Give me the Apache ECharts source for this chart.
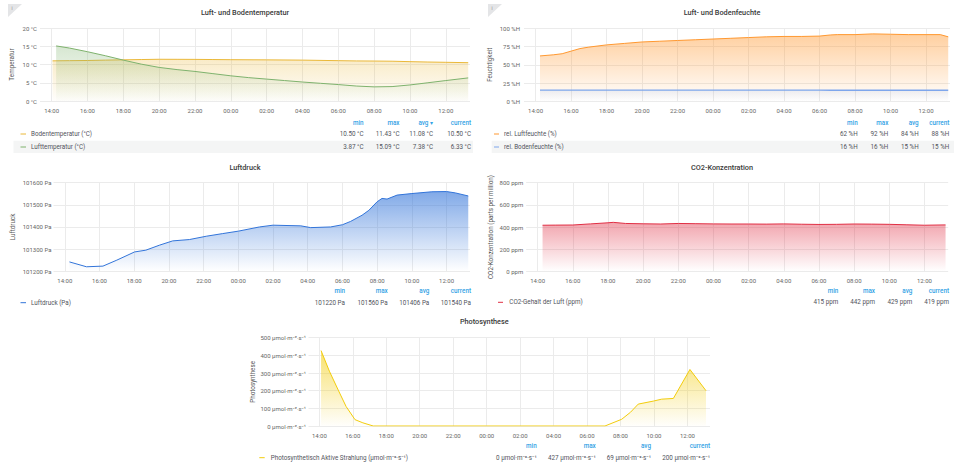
<!DOCTYPE html>
<html><head><meta charset="utf-8">
<script src="https://cdn.jsdelivr.net/npm/echarts@6/dist/echarts.min.js"></script>
<style>html,body{margin:0;padding:0;background:#fff}#c{width:959px;height:466px}</style>
</head><body><div id="c"></div>
<script>
// ---- time range (hours since day-1 midnight; 24 = 00:00 of day 2) ----
const rangeStartHour = 13.35;
const rangeEndHour = 37.35;
const tickHours = [14, 16, 18, 20, 22, 24, 26, 28, 30, 32, 34, 36];

// ---- Panel 1: Luft- und Bodentemperatur ----
const bodenTempHours  = [14.05, 15, 16, 17, 18, 19, 20, 21, 22, 23, 24, 26, 28, 30, 31, 32, 33, 34, 35, 36, 37.25];
const bodenTempValues = [11.0, 11.05, 11.1, 11.2, 11.28, 11.36, 11.43, 11.42, 11.4, 11.36, 11.32, 11.27, 11.2, 11.05, 10.98, 10.95, 10.9, 10.78, 10.68, 10.6, 10.5];
const luftTempHours   = [14.25, 15, 16, 17, 18, 19, 20, 21, 22, 23, 24, 25, 26, 27, 28, 29, 30, 31, 32, 33, 34, 35, 36, 37.25];
const luftTempValues  = [15.09, 14.5, 13.5, 12.4, 11.2, 10.1, 9.2, 8.6, 8.1, 7.5, 6.9, 6.4, 6.0, 5.6, 5.2, 4.85, 4.5, 4.1, 3.87, 3.95, 4.4, 5.0, 5.6, 6.33];

// ---- Panel 2: Luft- und Bodenfeuchte ----
const luftFeuchteHours  = [14.25, 15, 15.5, 16, 16.5, 17, 18, 19, 20, 21, 22, 23, 24, 25, 26, 27, 28, 29, 30, 30.6, 31, 32, 33, 34, 35, 36, 36.8, 37.25];
const luftFeuchteValues = [62, 63.5, 65, 68.5, 72, 74, 77, 79, 81, 82, 83, 84, 85, 86, 87, 88, 88.5, 88.5, 89, 90.5, 91, 91, 92, 91.5, 91, 91, 91, 88];
const bodenFeuchteHours  = [14.25, 18, 22, 26, 30, 30.6, 34, 37.25];
const bodenFeuchteValues = [15.6, 15.6, 15.6, 15.6, 15.5, 15.3, 15.3, 15.3];

// ---- Panel 3: Luftdruck ----
const luftdruckHours  = [14.27, 15.25, 16.2, 17, 18.02, 18.67, 19.47, 20.22, 21.18, 22.15, 23.1, 24, 25.22, 26, 27.6, 28.17, 29.32, 30, 30.47, 31.13, 31.52, 32, 32.28, 32.57, 33.15, 34, 35.15, 36, 36.5, 37.25];
const luftdruckValues = [101242, 101220, 101223, 101250, 101287, 101295, 101318, 101337, 101343, 101358, 101370, 101381, 101400, 101408, 101405, 101397, 101400, 101410, 101425, 101453, 101475, 101514, 101529, 101526, 101544, 101551, 101559, 101560, 101554, 101540];

// ---- Panel 4: CO2-Konzentration ----
const co2Hours  = [14.28, 15, 16, 17, 18, 18.3, 19, 20, 21, 22, 23, 24, 25, 26, 27, 28, 29, 30, 31, 32, 33, 34, 35, 36, 37.2];
const co2Values = [416, 417, 418, 428, 438, 442, 432, 429, 427, 432, 430, 428, 427, 427, 426, 428, 425, 423, 424, 427, 426, 424, 420, 416, 419];

// ---- Panel 5: Photosynthese ----
const parHours  = [14.1, 14.6, 15.13, 15.6, 16.13, 16.6, 17.22, 20, 24, 28, 31.07, 32.07, 32.6, 33.06, 33.96, 34.46, 35.16, 36.15, 37.11];
const parValues = [427, 310, 203, 110, 36, 18, 0, 0, 0, 0, 0, 38, 78, 124, 141, 152, 156, 320, 200];

// ---- legend tables (text) ----
const legendHeaders = ['min', 'max', 'avg', 'current'];
const tempLegendNames = ['Bodentemperatur (°C)', 'Lufttemperatur (°C)'];
const tempLegendStats = [['10.50 °C', '11.43 °C', '11.08 °C', '10.50 °C'], ['3.87 °C', '15.09 °C', '7.38 °C', '6.33 °C']];
const feuchteLegendNames = ['rel. Luftfeuchte (%)', 'rel. Bodenfeuchte (%)'];
const feuchteLegendStats = [['62 %H', '92 %H', '84 %H', '88 %H'], ['16 %H', '16 %H', '15 %H', '15 %H']];
const druckLegendNames = ['Luftdruck (Pa)'];
const druckLegendStats = [['101220 Pa', '101560 Pa', '101406 Pa', '101540 Pa']];
const co2LegendNames = ['CO2-Gehalt der Luft (ppm)'];
const co2LegendStats = [['415 ppm', '442 ppm', '429 ppm', '419 ppm']];
const parUnit = 'µmol·m⁻²·s⁻¹';
const parLegendNames = ['Photosynthetisch Aktive Strahlung (' + parUnit + ')'];
const parLegendStats = [['0 ' + parUnit, '427 ' + parUnit, '69 ' + parUnit, '200 ' + parUnit]];

const panelTitles = ['Luft- und Bodentemperatur', 'Luft- und Bodenfeuchte', 'Luftdruck', 'CO2-Konzentration', 'Photosynthese'];
const yAxisNames = ['Temperatur', 'Feuchtigkeit', 'Luftdruck', 'CO2-Konzentration (parts per million)', 'Photosynthese'];

// ---- build ----
const FONT = 'Roboto, "Noto Sans", sans-serif';
const pairs = (hs, vs) => hs.map((h, i) => [h, vs[i]]);
function rgba(hex, a) {
  const n = parseInt(hex.slice(1), 16);
  return 'rgba(' + (n >> 16 & 255) + ',' + (n >> 8 & 255) + ',' + (n & 255) + ',' + a + ')';
}
function grad(hex, a0, a1) {
  return new echarts.graphic.LinearGradient(0, 0, 0, 1, [
    { offset: 0, color: rgba(hex, a0) }, { offset: 1, color: rgba(hex, a1) }]);
}
const pad = n => (n < 10 ? '0' : '') + n;
const fmtHour = v => { const h = Math.round(v) % 24; return pad(h) + ':00'; };

const C = {
  boden: '#EAB839', luft: '#7EB26D', feuchte: '#FF9830', bfeuchte: '#7EA6EC',
  druck: '#3274D9', co2: '#E02F44', par: '#F2CC0C'
};

const grids = [
  { left: 40, top: 28, width: 430, height: 73 },
  { left: 524, top: 28, width: 426, height: 73.5 },
  { left: 53.5, top: 182.7, width: 416.5, height: 88.5 },
  { left: 526.2, top: 182.7, width: 422, height: 88.6 },
  { left: 308.5, top: 337.7, width: 401.5, height: 88.3 }
];

const xAxes = grids.map((g, i) => ({
  type: 'value', gridIndex: i, min: rangeStartHour, max: rangeEndHour,
  axisLine: { show: false },
  axisTick: { show: false, customValues: tickHours },
  splitLine: { show: true, lineStyle: { color: '#ebebeb', width: 1 } },
  axisLabel: { customValues: tickHours, formatter: fmtHour, fontSize: 6, color: '#666', margin: 6, fontFamily: FONT }
}));

const yCfg = [
  { min: 0, max: 20, interval: 5, unit: ' °C', gap: 25, margin: 3 },
  { min: 0, max: 100, interval: 25, unit: ' %H', gap: 31, margin: 4 },
  { min: 101200, max: 101600, interval: 100, unit: ' Pa', gap: 38, margin: 2 },
  { min: 0, max: 800, interval: 200, unit: ' ppm', gap: 32, margin: 3 },
  { min: 0, max: 500, interval: 100, unit: ' ' + parUnit, gap: 53, margin: 2.5 }
];
const yAxes = yCfg.map((c, i) => ({
  type: 'value', gridIndex: i, min: c.min, max: c.max, interval: c.interval,
  name: yAxisNames[i], nameLocation: 'middle', nameGap: c.gap, nameRotate: 90,
  nameTextStyle: { fontSize: 6.3, color: '#555', fontFamily: FONT },
  axisLine: { show: false }, axisTick: { show: false },
  splitLine: { lineStyle: { color: '#ebebeb', width: 1 } },
  axisLabel: { formatter: v => v + c.unit, fontSize: 6, color: '#666', margin: c.margin, fontFamily: FONT }
}));

function area(name, idx, data, color, a0, a1, z, lw) {
  return {
    name, type: 'line', xAxisIndex: idx, yAxisIndex: idx, data, showSymbol: false, symbol: 'none',
    lineStyle: { color, width: lw || 1 }, itemStyle: { color }, z: z || 2,
    areaStyle: { color: grad(color, a0, a1), origin: 'start' }, silent: true
  };
}

const series = [
  area('Bodentemperatur (°C)', 0, pairs(bodenTempHours, bodenTempValues), C.boden, 0.4, 0.02, 2),
  area('Lufttemperatur (°C)', 0, pairs(luftTempHours, luftTempValues), C.luft, 0.45, 0.02, 3),
  area('rel. Luftfeuchte (%)', 1, pairs(luftFeuchteHours, luftFeuchteValues), C.feuchte, 0.66, 0.0, 2),
  area('rel. Bodenfeuchte (%)', 1, pairs(bodenFeuchteHours, bodenFeuchteValues), C.bfeuchte, 0.2, 0.0, 3, 1.3),
  area('Luftdruck (Pa)', 2, pairs(luftdruckHours, luftdruckValues), C.druck, 0.88, 0.0, 2),
  area('CO2-Gehalt der Luft (ppm)', 3, pairs(co2Hours, co2Values), C.co2, 0.62, 0.0, 2),
  area('Photosynthetisch Aktive Strahlung', 4, pairs(parHours, parValues), C.par, 0.85, 0.02, 2)
];

// ---- graphic texts ----
const graphics = [];
function txt(x, y, text, o) {
  o = o || {};
  graphics.push({ type: 'text', x, y, silent: true, z: 10, style: {
    text, fill: o.fill || '#555', fontSize: o.size || 6.3, fontFamily: FONT,
    fontWeight: o.weight || 'normal', align: o.align || 'left', verticalAlign: 'middle' } });
}
function rect(x, y, w, h, fill) {
  graphics.push({ type: 'rect', silent: true, z: 1, shape: { x, y, width: w, height: h }, style: { fill } });
}
function line(x1, x2, y, color) {
  graphics.push({ type: 'line', silent: true, z: 10, shape: { x1, y1: y, x2, y2: y }, style: { stroke: color, lineWidth: 1 } });
}
function corner(x, y) {
  graphics.push({ type: 'polygon', silent: true, z: 1, shape: { points: [[x, y], [x + 14, y], [x, y + 13]] }, style: { fill: '#e4e5e7' } });
  txt(x + 3.5, y + 4, 'i', { size: 4.5, fill: '#888' });
}

const titlePos = [[245, 12], [722, 12], [245, 167.7], [722, 167.7], [484.3, 321.7]];
panelTitles.forEach((t, i) => txt(titlePos[i][0], titlePos[i][1], t, { size: 7.3, weight: 500, fill: '#3a3a3a', align: 'center' }));
corner(8, 4); corner(488, 4);

function legendTable(cfg) {
  legendHeaders.forEach((h, j) => txt(cfg.cols[j], cfg.headerY, (cfg.sortCol === j ? h + ' ▾' : h), { fill: '#33A2E5', align: 'right', size: 6.3, weight: 500 }));
  cfg.names.forEach((n, r) => {
    const y = cfg.rowY[r];
    if (cfg.bg && cfg.bg[r]) rect(cfg.bg[r][0], y - 6.3, cfg.bg[r][1] - cfg.bg[r][0], 12.3, '#f4f5f5');
    line(cfg.sw[0], cfg.sw[1], y, cfg.colors[r]);
    txt(cfg.textX, y, n, { fill: '#52545c' });
    cfg.stats[r].forEach((s, j) => txt(cfg.cols[j], y, s, { fill: '#52545c', align: 'right' }));
  });
}
legendTable({ headerY: 123, rowY: [134, 147], cols: [363.5, 399.5, 433, 471], sortCol: 2,
  names: tempLegendNames, stats: tempLegendStats, colors: [C.boden, C.luft], sw: [20.5, 26], textX: 31,
  bg: [null, [13.5, 473]] });
legendTable({ headerY: 123, rowY: [134, 147], cols: [857.7, 888.3, 918.7, 949.3],
  names: feuchteLegendNames, stats: feuchteLegendStats, colors: [C.feuchte, C.bfeuchte], sw: [494, 499], textX: 504,
  bg: [null, [491.7, 954]] });
legendTable({ headerY: 291, rowY: [302.7], cols: [345, 387.7, 429.3, 471],
  names: druckLegendNames, stats: druckLegendStats, colors: [C.druck], sw: [20.5, 26], textX: 31 });
legendTable({ headerY: 291.3, rowY: [302.3], cols: [838.3, 875, 912.3, 949],
  names: co2LegendNames, stats: co2LegendStats, colors: [C.co2], sw: [498, 503], textX: 509.3 });
legendTable({ headerY: 445.7, rowY: [457.7], cols: [536.7, 595.7, 651, 710],
  names: parLegendNames, stats: parLegendStats, colors: [C.par], sw: [259.3, 264.7], textX: 270.7 });

const chart = echarts.init(document.getElementById('c'), null, { renderer: 'svg' });
chart.setOption({
  animation: false,
  backgroundColor: '#ffffff',
  grid: grids,
  xAxis: xAxes,
  yAxis: yAxes,
  series,
  graphic: graphics
});
</script>
</body></html>
